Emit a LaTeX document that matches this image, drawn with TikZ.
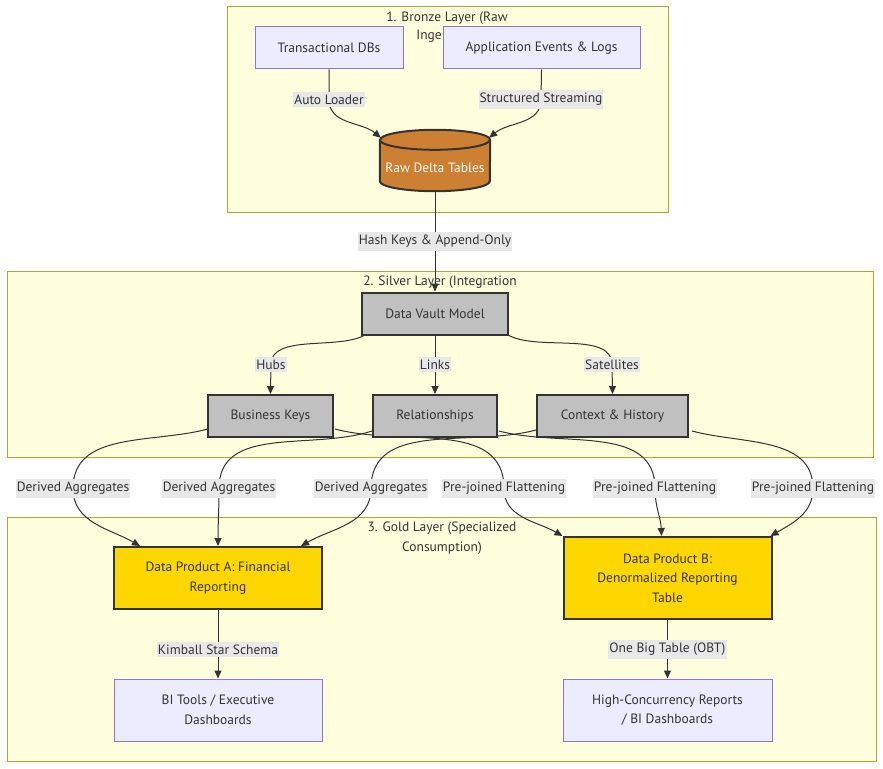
\documentclass[tikz,border=0pt]{standalone}
\usepackage{fontspec}
\setmainfont{PT Sans}
\usetikzlibrary{positioning,calc,shapes.geometric,arrows.meta}

\definecolor{clusterfill}{HTML}{FFFFDE}
\definecolor{clusterline}{HTML}{AAAA33}
\definecolor{srcfill}{HTML}{ECECFF}
\definecolor{srcline}{HTML}{9370DB}
\definecolor{bronze}{HTML}{CD7F32}
\definecolor{silver}{HTML}{C0C0C0}
\definecolor{gold}{HTML}{FFD700}
\definecolor{ink}{HTML}{333333}
\definecolor{labelbg}{HTML}{E8E8E8}

\pgfdeclarelayer{back}
\pgfdeclarelayer{wires}
\pgfsetlayers{back,wires,main}

\tikzset{
  txt/.style={font=\fontsize{13.5}{19.5}\selectfont, text=ink, align=center, inner sep=0pt},
  cluster/.style={draw=clusterline, fill=clusterfill, line width=1pt},
  layertitle/.style={txt},
  srcbox/.style={txt, draw=srcline, fill=srcfill, line width=1pt},
  vaultbox/.style={txt, draw=ink, fill=silver, line width=2pt, minimum height=42pt},
  productbox/.style={txt, draw=ink, fill=gold, line width=2pt, minimum width=208pt},
  tablesbox/.style={txt, text=white, minimum width=110pt, minimum height=46pt},
  drum/.style={draw=ink, fill=bronze, line width=2pt},
  elabel/.style={txt, fill=labelbg, inner xsep=1pt, inner ysep=3pt},
  flow/.style={draw=ink, line width=1pt, -{Stealth[length=8pt,width=7pt,inset=0pt]}},
}

\begin{document}
\begin{tikzpicture}[x=1pt, y=-1pt]
\useasboundingbox (0,0) rectangle (883,768);

% Layer frames
\begin{pgfonlayer}{back}
\draw[cluster] (227,7) rectangle (668,212);
\draw[cluster] (7,271) rectangle (873,457);
\draw[cluster] (7,517) rectangle (876,761);
\node[layertitle] (tBronze) at (447,18) {1. Bronze Layer (Raw};
\node[layertitle, anchor=east] (tInge) at (442,36) {Inge};
\node[layertitle] (tSilver) at (440,282) {2. Silver Layer (Integration};
\node[layertitle] (tGold) at (442,538) {3. Gold Layer (Specialized\\Consumption)};
\end{pgfonlayer}

% Bronze layer
\node[srcbox, minimum width=148pt, minimum height=42pt] (tdb) at (329,48) {Transactional DBs};
\node[srcbox, minimum width=197pt, minimum height=42pt] (aev) at (541.5,48) {Application Events \& Logs};
\node[tablesbox] (raw) at (435,168) {Raw Delta Tables};
\begin{pgfonlayer}{back}
\draw[drum] ($(raw.north west)+(0,-5)$) -- ($(raw.south west)+(0,-10)$)
  arc[start angle=180, end angle=360, x radius=55pt, y radius=10pt]
  -- ($(raw.north east)+(0,-5)$)
  arc[start angle=0, end angle=180, x radius=55pt, y radius=10pt] -- cycle;
\draw[drum, fill=none] ($(raw.north west)+(0,-5)$) arc[start angle=180, end angle=360, x radius=55pt, y radius=10pt];
\end{pgfonlayer}

% Silver layer
\node[vaultbox, minimum width=146pt] (dvm) at (435,313.5) {Data Vault Model};
\node[vaultbox, minimum width=125pt] (bk) at (270.5,416) {Business Keys};
\node[vaultbox, minimum width=124pt] (rel) at (435,416) {Relationships};
\node[vaultbox, minimum width=151pt] (ctx) at (612.5,416) {Context \& History};

% Gold layer
\node[productbox, minimum height=62pt] (dpa) at (218,578) {Data Product A: Financial\\Reporting};
\node[productbox, minimum height=82pt] (dpb) at (667.5,578) {Data Product B:\\Denormalized Reporting\\Table};
\node[srcbox, minimum width=208pt, minimum height=62pt] (bi) at (218,710) {BI Tools / Executive\\Dashboards};
\node[srcbox, minimum width=209pt, minimum height=62pt] (hc) at (667.5,710) {High-Concurrency Reports\\/ BI Dashboards};

% Edge labels
\node[elabel] (lAuto) at (329,99.5) {Auto Loader};
\node[elabel] (lStream) at (541,99.5) {Structured Streaming};
\node[elabel] (lHash) at (435,241.5) {Hash Keys \& Append-Only};
\node[elabel] (lHubs) at (271,364.5) {Hubs};
\node[elabel] (lLinks) at (435,364.5) {Links};
\node[elabel] (lSat) at (612,364.5) {Satellites};
\node[elabel] (lDA1) at (73,488.5) {Derived Aggregates};
\node[elabel] (lDA2) at (219,488.5) {Derived Aggregates};
\node[elabel] (lDA3) at (371,488.5) {Derived Aggregates};
\node[elabel] (lPJ1) at (504,488.5) {Pre-joined Flattening};
\node[elabel] (lPJ2) at (655,488.5) {Pre-joined Flattening};
\node[elabel] (lPJ3) at (813,488.5) {Pre-joined Flattening};
\node[elabel] (lKim) at (218,649.5) {Kimball Star Schema};
\node[elabel] (lOBT) at (667.5,649.5) {One Big Table (OBT)};

% Connectors
\begin{pgfonlayer}{wires}
\draw[flow] (tdb.south) to[out=-90,in=90] (lAuto.center) to[out=-90,in=140] ($(raw.north west)+(1,-7)$);
\draw[flow] (aev.south) to[out=-90,in=90] (lStream.center) to[out=-90,in=40] ($(raw.north east)+(-1,-7)$);
\draw[flow] (raw.south) -- (dvm.north);

\draw[flow] ($(dvm.south west)+(3,0)$) to[out=208,in=90,looseness=0.8] (lHubs.center) to[out=-90,in=90] (bk.north);
\draw[flow] (dvm.south) -- (rel.north);
\draw[flow] (dvm.south east) to[out=-28,in=90,looseness=0.8] (lSat.center) to[out=-90,in=90] (ctx.north);

\draw[flow] ($(bk.south west)+(1,-9)$) to[out=195,in=90] (lDA1.center) to[out=-90,in=150] ($(dpa.north west)+(27,0)$);
\draw[flow] ($(rel.south west)+(0,-7)$) to[out=198,in=90] (lDA2.center) to[out=-90,in=90] (dpa.north);
\draw[flow] ($(ctx.south west)+(0,-8)$) to[out=195,in=90] (lDA3.center) to[out=-90,in=30] ($(dpa.north east)+(-22,0)$);
\draw[flow] ($(bk.south east)+(1,-9)$) to[out=-15,in=90] (lPJ1.center) to[out=-90,in=150] (dpb.north west);
\draw[flow] ($(rel.south east)+(1,-7)$) to[out=-15,in=90] (lPJ2.center) to[out=-90,in=92] ($(dpb.north)+(-6,0)$);
\draw[flow] ($(ctx.south east)+(3,-7)$) to[out=-15,in=90] (lPJ3.center) to[out=-90,in=30] ($(dpb.north east)+(-2,0)$);

\draw[flow] (dpa.south) -- (bi.north);
\draw[flow] (dpb.south) -- (hc.north);
\end{pgfonlayer}

\end{tikzpicture}
\end{document}
